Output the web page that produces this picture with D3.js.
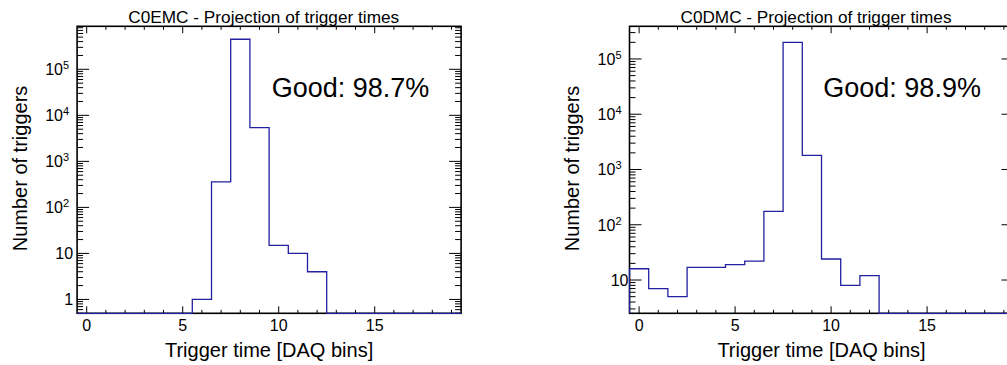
<!DOCTYPE html>
<html lang="en">
<head>
    <meta charset="UTF-8">
    <script src="https://d3js.org/d3.v7.min.js"></script>
    <title>trigger times</title>
</head>
<style type="text/css">
    body{ margin:0; background:white; }
    text{ font-family:"Liberation Sans", Arial, Helvetica, sans-serif; fill:black; }
</style>
<body>
<div id="chart"></div>
<script>

    // bins are 1 DAQ bin wide, centered on the integers
    var binCenters = [0,1,2,3,4,5,6,7,8,9,10,11,12,13,14,15,16,17,18,19];
    var emcCounts = [0,0,0,0,0,0,1,360,450000,5400,15,10,4,0,0,0,0,0,0,0];
    var dmcCounts = [16,7,5,17,17,19,22,175,200000,1800,24,8,12,0,0,0,0,0,0,0];
    var emcYRange = [0.5, 860000];
    var dmcYRange = [2.5, 390000];
    var xRange = [-0.5, 19.5];
    var xTicks = [0,5,10,15];
    var titles = ["C0EMC - Projection of trigger times", "C0DMC - Projection of trigger times"];
    var goodLabels = ["Good: 98.7%", "Good: 98.9%"];
    var xLabel = "Trigger time [DAQ bins]";
    var yLabel = "Number of triggers";

    var W = 1007, H = 365;
    var frameTop = 26.3, frameBottom = 313.3, frameWidth = 384;
    var lineColor = "#2020a0";

    var svg = d3.select("#chart").append("svg")
        .attr("width", W)
        .attr("height", H);

    function drawPanel(idx, left, counts, yRange, opt) {
        var g = svg.append("g");

        var x = d3.scaleLinear().domain(xRange).range([left, left + frameWidth]);
        var y = d3.scaleLog().domain(yRange).range([frameBottom, frameTop]);

        // clip for the histogram
        var clipId = "clip" + idx;
        g.append("clipPath").attr("id", clipId)
            .append("rect")
            .attr("x", left - 1).attr("y", frameTop - 1)
            .attr("width", frameWidth + 2).attr("height", frameBottom - frameTop + 2);

        // frame
        g.append("rect")
            .attr("x", left).attr("y", frameTop)
            .attr("width", frameWidth).attr("height", frameBottom - frameTop)
            .attr("fill", "none")
            .attr("stroke", "black")
            .attr("stroke-width", 1.6);

        // x ticks, bottom and top, pointing inwards
        var xMinor = d3.range(Math.ceil(xRange[0]), Math.floor(xRange[1]) + 1);
        xMinor.forEach(function(t) {
            var len = (xTicks.indexOf(t) >= 0) ? 7 : 3.5;
            g.append("line")
                .attr("x1", x(t)).attr("x2", x(t))
                .attr("y1", frameBottom).attr("y2", frameBottom - len)
                .attr("stroke", "black").attr("stroke-width", 1);
            g.append("line")
                .attr("x1", x(t)).attr("x2", x(t))
                .attr("y1", frameTop).attr("y2", frameTop + len)
                .attr("stroke", "black").attr("stroke-width", 1);
        });

        g.selectAll(".xlab")
            .data(xTicks)
            .enter()
            .append("text")
            .attr("class", "xlab")
            .attr("x", function(d) { return x(d); })
            .attr("y", 331)
            .attr("text-anchor", "middle")
            .style("font-size", "16px")
            .text(function(d) { return d; });

        // log y ticks, left and right
        var lo = Math.floor(Math.log10(yRange[0])), hi = Math.ceil(Math.log10(yRange[1]));
        var majors = [], minors = [];
        for (var e = lo; e <= hi; e++) {
            for (var k = 1; k <= 9; k++) {
                var v = k * Math.pow(10, e);
                if (v < yRange[0] || v > yRange[1]) continue;
                if (k == 1) majors.push(v); else minors.push(v);
            }
        }
        majors.concat(minors).forEach(function(v) {
            var len = (majors.indexOf(v) >= 0) ? 12 : 6;
            var yy = y(v);
            g.append("line")
                .attr("x1", left).attr("x2", left + len)
                .attr("y1", yy).attr("y2", yy)
                .attr("stroke", "black").attr("stroke-width", 1);
            g.append("line")
                .attr("x1", left + frameWidth).attr("x2", left + frameWidth - len)
                .attr("y1", yy).attr("y2", yy)
                .attr("stroke", "black").attr("stroke-width", 1);
        });

        majors.forEach(function(v) {
            var e = Math.round(Math.log10(v));
            var t = g.append("text")
                .attr("y", y(v) + 6)
                .attr("text-anchor", "end")
                .style("font-size", "16px");
            if (e <= 1) {
                t.attr("x", left - opt.plainGap).text(v);
            } else {
                t.attr("x", left - 8);
                t.append("tspan").text("10");
                t.append("tspan")
                    .attr("dy", -6)
                    .style("font-size", "11px")
                    .text(e);
            }
        });

        // histogram outline, empty bins sit on the bottom of the frame
        var pts = binCenters.map(function(c, i) {
            return [c - 0.5, Math.max(counts[i], yRange[0])];
        });
        pts.unshift([xRange[0], yRange[0]]);
        pts.push([binCenters[binCenters.length - 1] + 0.5, yRange[0]]);

        var line = d3.line()
            .x(function(d) { return x(d[0]); })
            .y(function(d) { return y(d[1]); })
            .curve(d3.curveStepAfter);

        g.append("path")
            .attr("d", line(pts))
            .attr("clip-path", "url(#" + clipId + ")")
            .attr("fill", "none")
            .attr("stroke", lineColor)
            .attr("stroke-width", 1.3);

        // texts
        g.append("text")
            .attr("x", opt.titleX)
            .attr("y", 22.7)
            .attr("text-anchor", "middle")
            .attr("textLength", 271)
            .attr("lengthAdjust", "spacingAndGlyphs")
            .style("font-size", "16.5px")
            .text(titles[idx]);

        g.append("text")
            .attr("x", opt.goodX)
            .attr("y", 96.7)
            .style("font-size", "27px")
            .text(goodLabels[idx]);

        g.append("text")
            .attr("x", left + frameWidth / 2)
            .attr("y", 357)
            .attr("text-anchor", "middle")
            .style("font-size", "20px")
            .text(xLabel);

        g.append("text")
            .attr("transform", "translate(" + opt.yLabX + "," + 168.5 + ") rotate(-90)")
            .attr("text-anchor", "middle")
            .style("font-size", "20px")
            .text(yLabel);
    }

    drawPanel(0, 77.1, emcCounts, emcYRange, {titleX: 263.7, goodX: 271.7, yLabX: 26.7, plainGap: 4});
    drawPanel(1, 629.5, dmcCounts, dmcYRange, {titleX: 816, goodX: 823.3, yLabX: 579.3, plainGap: 1});

</script>
</body>
</html>
